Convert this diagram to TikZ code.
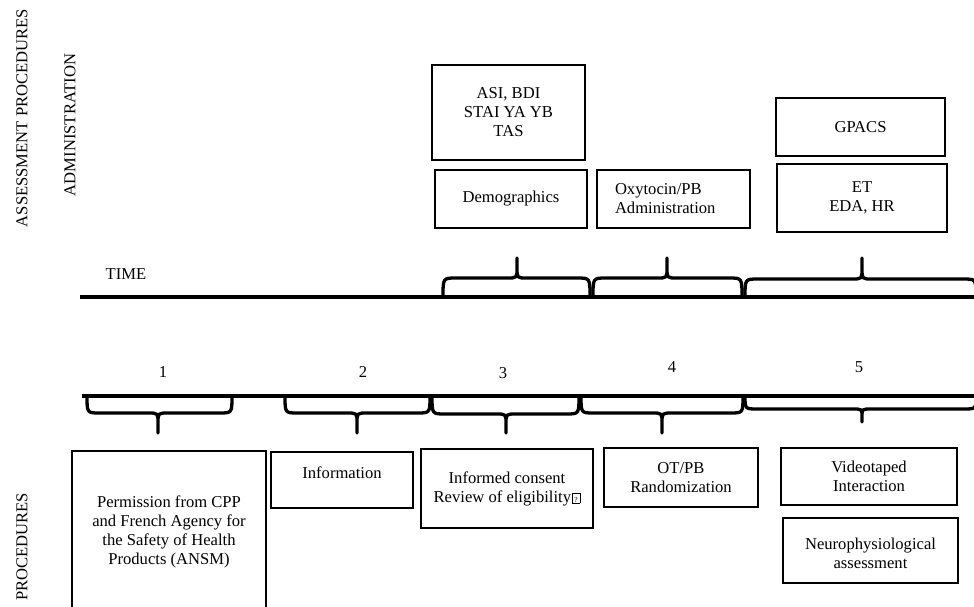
\documentclass[tikz,border=0pt]{standalone}
\usepackage{fontspec}
\setmainfont{Liberation Serif}
\newcommand\rz[2]{\raisebox{#1}[\height][\depth]{#2}}
\newcommand\missingglyph{\kern0.8pt{\fboxsep=0.4pt\fboxrule=0.6pt\framebox[8.5pt]{\rule{0pt}{8.5pt}\fontsize{7.5}{7.5}\selectfont ?}}}
\newcommand\mybrace[6]{%
  \draw[brc] (#1,#4) .. controls (#1,#5) .. ({#1+13},#5) -- ({#2-10},#5)
    .. controls (#2,#5) .. (#2,{(#5+#6)/2}) -- (#2,#6) -- (#2,{(#5+#6)/2})
    .. controls (#2,#5) .. ({#2+10},#5) -- ({#3-13},#5)
    .. controls (#3,#5) .. (#3,#4);}
\begin{document}
\begin{tikzpicture}[x=1pt,y=-1pt,
  every node/.style={font=\fontsize{16.6}{19}\selectfont, inner sep=0pt},
  box/.style={draw, line width=1.3pt, align=center},
  axis/.style={line width=3.5pt},
  brc/.style={line width=3.3pt, line join=round, line cap=butt}]
\useasboundingbox (0,0) rectangle (974,606);

% side labels
\node[rotate=90] (assess) at (22,118) {ASSESSMENT PROCEDURES};
\node[rotate=90] (admin) at (70,125) {ADMINISTRATION};
\node[rotate=90] (proc) at (22,547) {PROCEDURES};

% time axis (top)
\node (time) at (126,274) {TIME};
\coordinate (ta) at (80,297);
\coordinate (tb) at (974,297);
\draw[axis] (ta) -- (tb);

% top braces
\mybrace{443}{517}{590}{297}{278}{258}
\mybrace{593}{667}{742}{297}{278}{258}
\mybrace{745}{862}{976}{297}{279}{258}

% top boxes
\node[box, minimum width=153pt, minimum height=95pt] (asi) at (508.5,112.5)
  {ASI, BDI\\STAI YA YB\\TAS};
\node[box, minimum width=152pt, minimum height=58pt] (demo) at (511,199) {Demographics};
\node[box, minimum height=58pt, text width=117pt, inner xsep=18pt, align=left] (oxy) at (673.5,199)
  {Oxytocin/PB\\Administration};
\node[box, minimum width=169pt, minimum height=58pt] (gpacs) at (860.5,127) {GPACS};
\node[box, minimum width=170pt, minimum height=68pt] (et) at (862,198) {ET\\EDA, HR};

% procedures axis (bottom)
\coordinate (pa) at (82,396);
\coordinate (pb) at (974,396);
\draw[axis] (pa) -- (pb);

% step numbers
\node (n1) at (163,372) {1};
\node (n2) at (363,372) {2};
\node (n3) at (503,373) {3};
\node (n4) at (672,367) {4};
\node (n5) at (859,367) {5};

% bottom braces
\mybrace{87}{158}{232}{396}{413}{433}
\mybrace{285}{357}{430}{396}{413}{433}
\mybrace{432}{506}{579}{396}{414}{433}
\mybrace{581}{662}{743}{396}{413}{433}
\mybrace{745}{862}{976}{396}{409}{422}

% bottom boxes
\node[box, minimum width=194pt, minimum height=161pt] (perm) at (169,531.5)
  {Permission from CPP\\and French Agency for\\the Safety of Health\\Products (ANSM)};
\node[box, minimum width=142pt, minimum height=56pt] (info) at (342,480)
  {\rz{7pt}{Information}};
\node[box, minimum width=172pt, minimum height=79pt] (consent) at (507,488.5)
  {Informed consent\\Review of eligibility\missingglyph};
\node[box, minimum width=154pt, minimum height=59pt] (otpb) at (681,477.5)
  {OT/PB\\Randomization};
\node[box, minimum width=176pt, minimum height=57pt] (video) at (869,476.5)
  {Videotaped\\Interaction};
\node[box, minimum width=175pt, minimum height=65pt] (neuro) at (870.5,550.5)
  {\rz{-5pt}{\begin{tabular}{@{}c@{}}Neurophysiological\\assessment\end{tabular}}};
\end{tikzpicture}
\end{document}
